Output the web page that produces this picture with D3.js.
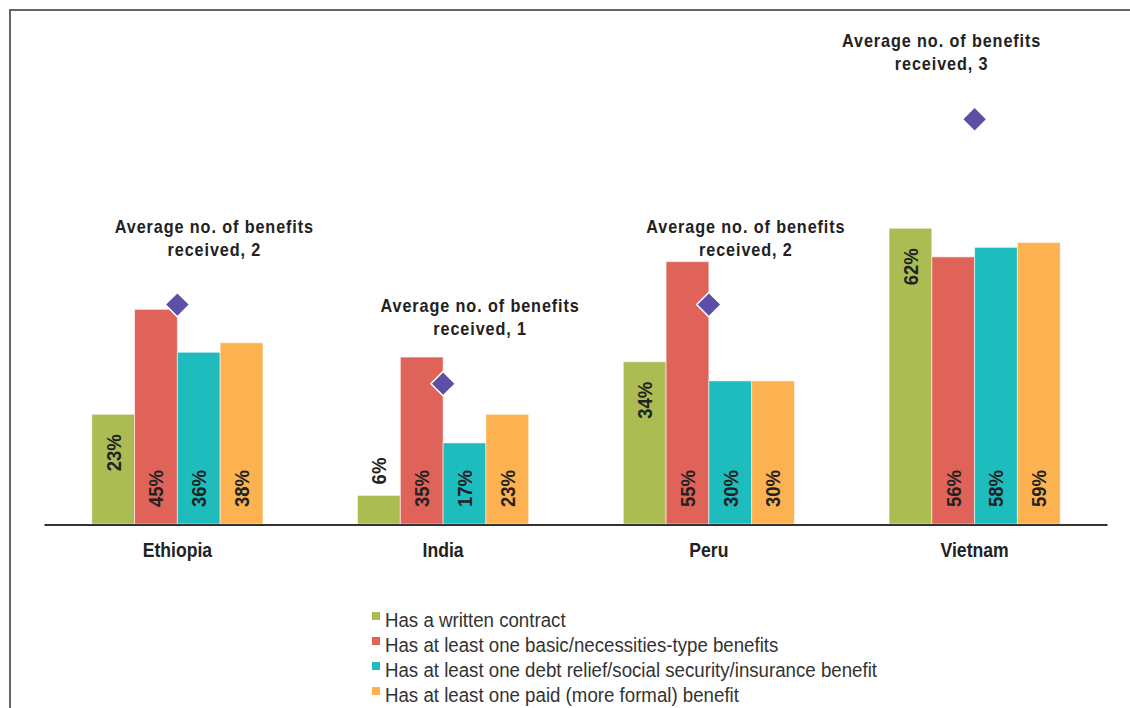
<!DOCTYPE html>
<html>
<head>
<meta charset="utf-8">
<script src="https://cdn.jsdelivr.net/npm/d3@7"></script>
<style>
  html, body { margin: 0; padding: 0; background: #fff; }
  svg { display: block; }
  text { font-family: "Liberation Sans", Arial, sans-serif; }
</style>
</head>
<body>
<svg id="chart" width="1130" height="708"></svg>
<script>
// Countries on the x axis
const countries = ["Ethiopia", "India", "Peru", "Vietnam"];

// Benefit indicators (legend order)
const seriesNames = [
  "Has a written contract",
  "Has at least one basic/necessities-type benefits",
  "Has at least one debt relief/social security/insurance benefit",
  "Has at least one paid (more formal) benefit"
];
const seriesColors = ["#abbd52", "#e06359", "#1ebcbd", "#fcb250"];

// Share of workers (%) per country, one array per indicator
const writtenContract = [23, 6, 34, 62];
const basicBenefits   = [45, 35, 55, 56];
const debtRelief      = [36, 17, 30, 58];
const paidBenefits    = [38, 23, 30, 59];

// Average number of benefits received per country (secondary scale)
const avgBenefits = [1.61, 1.03, 1.61, 2.97];

const seriesValues = [writtenContract, basicBenefits, debtRelief, paidBenefits];

const svg = d3.select("#chart");
const W = 1130, H = 708;

// Condensed lettering: glyphs are narrowed horizontally along the text direction
const NARROW = 0.88;

// Frame (top and left rules)
svg.append("line").attr("x1", 10).attr("y1", 10).attr("x2", W).attr("y2", 10)
  .attr("stroke", "#666").attr("stroke-width", 2);
svg.append("line").attr("x1", 10).attr("y1", 9).attr("x2", 10).attr("y2", H)
  .attr("stroke", "#666").attr("stroke-width", 2);

// Scales
const x0 = d3.scaleBand().domain(countries).range([44.5, 1107.5])
  .paddingInner(0.356).paddingOuter(0.178);
const x1 = d3.scaleBand().domain(d3.range(seriesNames.length)).range([0, x0.bandwidth()]);
const y = d3.scaleLinear().domain([0, 100]).range([524, 47]);
const y2 = d3.scaleLinear().domain([0, 3.5]).range([524, 47]);

// Bars
const groups = svg.append("g").selectAll("g")
  .data(countries).join("g")
  .attr("transform", d => `translate(${x0(d)},0)`);

const cells = groups.selectAll("g.cell")
  .data((c, ci) => seriesValues.map((vals, si) => ({ country: c, si, v: vals[ci] })))
  .join("g").attr("class", "cell");

cells.append("rect")
  .attr("x", d => x1(d.si))
  .attr("y", d => y(d.v))
  .attr("width", x1.bandwidth())
  .attr("height", d => y(0) - y(d.v))
  .attr("fill", d => seriesColors[d.si])
  .attr("stroke", "rgba(255,255,255,0.55)")
  .attr("stroke-width", 1);

// Value labels, rotated: contract share sits at the bar end, the rest at the base
const endInside = d => d.si === 0 && (y(0) - y(d.v)) >= 60;
cells.append("text")
  .attr("transform", d => {
    const cx = x1(d.si) + x1.bandwidth() / 2;
    const top = y(d.v);
    let ty;
    if (d.si === 0) ty = endInside(d) ? top + 20 : top - 11;
    else ty = y(0) - 17;
    return `translate(${cx},${ty}) rotate(-90) scale(${NARROW},1)`;
  })
  .attr("text-anchor", d => endInside(d) ? "end" : "start")
  .attr("dominant-baseline", "central")
  .attr("font-size", 21)
  .attr("font-weight", "bold")
  .attr("fill", "#222")
  .text(d => d.v + "%");

// Baseline axis
svg.append("line")
  .attr("x1", x0.range()[0]).attr("x2", x0.range()[1])
  .attr("y1", 525).attr("y2", 525)
  .attr("stroke", "#333").attr("stroke-width", 2);

// Country labels
svg.append("g").selectAll("text")
  .data(countries).join("text")
  .attr("transform", d => `translate(${x0(d) + x0.bandwidth() / 2},557) scale(${NARROW},1)`)
  .attr("text-anchor", "middle")
  .attr("font-size", 20)
  .attr("font-weight", "bold")
  .attr("fill", "#222")
  .text(d => d);

// Average-benefits markers (diamonds)
const diamond = d3.symbol().type(d3.symbolSquare).size(300);
svg.append("g").selectAll("path")
  .data(countries).join("path")
  .attr("d", diamond)
  .attr("transform", (d, i) => `translate(${x0(d) + x0.bandwidth() / 2},${y2(avgBenefits[i])}) rotate(45)`)
  .attr("fill", "#5b50a6")
  .attr("stroke", "#fff")
  .attr("stroke-width", 1.5);

// Marker annotations
const notes = svg.append("g").selectAll("text")
  .data(countries).join("text")
  .attr("text-anchor", "middle")
  .attr("font-size", 18)
  .attr("font-weight", "bold")
  .attr("letter-spacing", 1)
  .attr("fill", "#222")
  .attr("transform", (d, i) => {
    const cx = x0(d) + x0.bandwidth() / 2;
    const dx = i === countries.length - 1 ? -33 : 37;
    return `translate(${cx + dx},${y2(avgBenefits[i]) - 72}) scale(0.9,1)`;
  });
notes.append("tspan").attr("x", 0).attr("y", 0).text("Average no. of benefits");
notes.append("tspan").attr("x", 0).attr("y", 23)
  .text((d, i) => "received, " + Math.round(avgBenefits[i]));

// Legend
const legend = svg.append("g").attr("transform", "translate(372,627)");
const items = legend.selectAll("g").data(seriesNames).join("g")
  .attr("transform", (d, i) => `translate(0,${i * 25})`);
items.append("rect").attr("x", 0).attr("y", -15).attr("width", 8).attr("height", 8)
  .attr("fill", (d, i) => seriesColors[i]);
items.append("text")
  .attr("transform", "translate(13,0) scale(0.89,1)")
  .attr("font-size", 21)
  .attr("fill", "#333")
  .text(d => d);
</script>
</body>
</html>
